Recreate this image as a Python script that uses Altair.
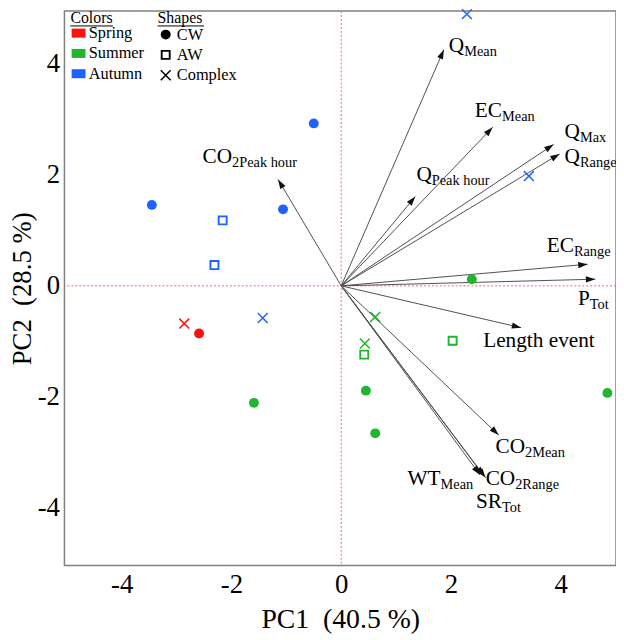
import math
import altair as alt
import pandas as pd

SERIF = "Liberation Serif"

# ---- observations (PCA scores) ----
obs_pc1 = [-2.86, -2.59,
           -3.45, -0.50, -1.06, -2.16, -2.31, -1.43, 2.29, 3.42,
           -1.59, 2.38, 0.45, 0.62, 4.85, 0.42, 2.03, 0.62, 0.43]
obs_pc2 = [-0.68, -0.86,
           1.46, 2.93, 1.38, 1.18, 0.375, -0.58, 4.90, 1.98,
           -2.11, 0.12, -1.89, -2.66, -1.93, -1.24, -0.99, -0.56, -1.04]
obs_season = ["Spring", "Spring",
              "Autumn", "Autumn", "Autumn", "Autumn", "Autumn", "Autumn", "Autumn", "Autumn",
              "Summer", "Summer", "Summer", "Summer", "Summer", "Summer", "Summer", "Summer", "Summer"]
obs_type = ["Complex", "CW",
            "CW", "CW", "CW", "AW", "AW", "Complex", "Complex", "Complex",
            "CW", "CW", "CW", "CW", "CW", "AW", "AW", "Complex", "Complex"]

# ---- variable loadings (arrows) ----
var_main = ["Q", "EC", "Q", "Q", "Q", "EC", "P", "Length event", "CO", "WT", "CO", "SR", "CO"]
var_sub = ["Mean", "Mean", "Max", "Range", "Peak hour", "Range", "Tot", "", "2Mean", "Mean",
           "2Range", "Tot", "2Peak hour"]
var_pc1 = [1.87, 2.76, 3.87, 3.98, 1.35, 4.49, 4.63, 3.28, 2.87, 2.53, 2.60, 2.63, -1.15]
var_pc2 = [4.26, 2.86, 2.55, 2.38, 1.61, 0.39, 0.12, -0.755, -2.69, -3.41, -3.43, -3.46, 1.92]
lab_pc1 = [2.24, 2.93, 4.35, 4.35, 1.65, 4.24, 4.53, 4.62, 3.35, 1.81, 3.17, 2.93, -1.99]
lab_pc2 = [4.21, 3.05, 2.66, 2.21, 1.89, 0.61, -0.34, -1.11, -3.02, -3.59, -3.59, -4.00, 2.21]

seasons = ["Spring", "Summer", "Autumn"]
season_colors = ["#FF1010", "#21B530", "#2062FF"]
types = ["CW", "AW", "Complex"]

obs = pd.DataFrame({"pc1": obs_pc1, "pc2": obs_pc2, "season": obs_season, "type": obs_type})
var = pd.DataFrame({"main": var_main, "sub": var_sub, "pc1": var_pc1, "pc2": var_pc2,
                    "lx": lab_pc1, "ly": lab_pc2})
var["ox"] = 0.0
var["oy"] = 0.0
var["ang"] = [(math.degrees(math.atan2(a * 55.2, b * 56.0)) + 360) % 360
              for a, b in zip(var_pc1, var_pc2)]
zero = pd.DataFrame({"z": [0.0]})

xs = alt.Scale(domain=[-5.043, 5.007], nice=False, zero=False)
ys = alt.Scale(domain=[-5.045, 4.955], nice=False, zero=False)

xaxis = alt.Axis(values=[-4, -2, 0, 2, 4], labelExpr="datum.value + ''", ticks=False, domain=False,
                 grid=False, labelFont=SERIF, labelFontSize=27, labelColor="black", labelPadding=6,
                 title="PC1\u00a0 (40.5 %)", titleFont=SERIF, titleFontSize=28, titleFontWeight="normal",
                 titleColor="black", titlePadding=9)
yaxis = alt.Axis(values=[-4, -2, 0, 2, 4], labelExpr="datum.value + ''", ticks=False, domain=False,
                 grid=False, labelFont=SERIF, labelFontSize=27, labelColor="black", labelPadding=5,
                 title="PC2\u00a0 (28.5 %)", titleFont=SERIF, titleFontSize=27, titleFontWeight="normal",
                 titleColor="black", titlePadding=1)


def X(f):
    return alt.X(f, type="quantitative", scale=xs, axis=xaxis)


def Y(f):
    return alt.Y(f, type="quantitative", scale=ys, axis=yaxis)


vline = alt.Chart(zero).mark_rule(color="#FF6060", strokeDash=[2, 2], strokeWidth=1).encode(x=X("z"))
hline = alt.Chart(zero).mark_rule(color="#FF6060", strokeDash=[2, 2], strokeWidth=1).encode(y=Y("z"))

arrows = alt.Chart(var).mark_rule(color="#505050", strokeWidth=1).encode(
    x=X("ox"), y=Y("oy"), x2="pc1:Q", y2="pc2:Q")

heads = alt.Chart(var).mark_point(
    shape="M0,0L-0.33,1L0.33,1Z", size=361, filled=True, opacity=1, color="#111111", strokeWidth=0
).encode(x=X("pc1"), y=Y("pc2"), angle=alt.Angle("ang:Q", scale=None))

lab_main = alt.Chart(var).mark_text(
    align="right", baseline="alphabetic", font=SERIF, fontSize=21.5, color="black"
).encode(x=X("lx"), y=Y("ly"), text="main:N")

lab_sub = alt.Chart(var).mark_text(
    align="left", baseline="alphabetic", font=SERIF, fontSize=14.5, color="black", dy=4
).encode(x=X("lx"), y=Y("ly"), text="sub:N")

shape_paths = [
    "circle",
    "M-1,-1H1V1H-1ZM-0.62,-0.62V0.62H0.62V-0.62Z",
    "M-0.894,-1.106L1.106,0.894L0.894,1.106L-1.106,-0.894Z"
    "M1.106,-0.894L-0.894,1.106L-1.106,0.894L0.894,-1.106Z",
]

points = alt.Chart(obs).mark_point(filled=True, opacity=1, size=100, strokeWidth=0).encode(
    x=X("pc1"), y=Y("pc2"),
    color=alt.Color("season:N", scale=alt.Scale(domain=seasons, range=season_colors),
                    legend=alt.Legend(title="Colors", orient="none", legendX=6, legendY=-1,
                                      symbolType="M-1,-0.65H1V0.65H-1Z", symbolSize=196,
                                      symbolOpacity=1, symbolStrokeWidth=0,
                                      labelFont=SERIF, labelFontSize=16.5, labelColor="black",
                                      labelOffset=2, titleFont=SERIF, titleFontSize=16,
                                      titleFontWeight="normal", titleColor="black",
                                      titlePadding=-1, rowPadding=3.5, padding=0)),
    shape=alt.Shape("type:N", scale=alt.Scale(domain=types, range=shape_paths),
                    legend=alt.Legend(title="Shapes", orient="none", legendX=94, legendY=-1,
                                      symbolSize=100, symbolFillColor="black",
                                      symbolStrokeColor="black", symbolStrokeWidth=0,
                                      symbolOpacity=1,
                                      labelFont=SERIF, labelFontSize=16.5, labelColor="black",
                                      labelOffset=3, titleFont=SERIF, titleFontSize=16,
                                      titleFontWeight="normal", titleColor="black",
                                      titlePadding=0.5, rowPadding=3.5, padding=0)),
)

under1 = alt.Chart(zero).mark_rule(color="black", strokeWidth=1).encode(
    x=alt.value(6), x2=alt.value(49), y=alt.value(15))
under2 = alt.Chart(zero).mark_rule(color="black", strokeWidth=1).encode(
    x=alt.value(94), x2=alt.value(141), y=alt.value(15))

chart = alt.layer(vline, hline, arrows, heads, lab_main, lab_sub, points, under1, under2).properties(
    width=557, height=560,
    autosize=alt.AutoSizeParams(type="none"),
    padding={"left": 57, "top": 0, "right": 0, "bottom": 72},
).resolve_legend(color="independent", shape="independent").configure_view(
    stroke="#808080", strokeWidth=1.5
)

chart.save("out.html", embed_options={"renderer": "svg", "actions": False})
